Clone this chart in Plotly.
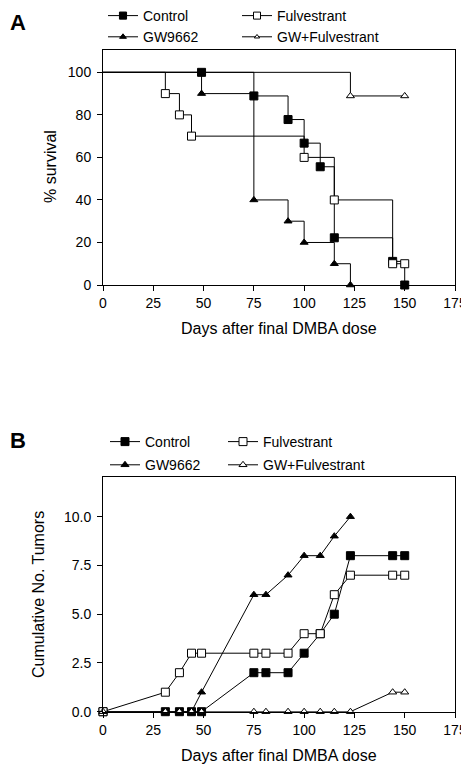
import plotly.graph_objects as go

# ---------------- Panel A: survival (%) ----------------
days_ctrl_a = [0, 49, 75, 92, 100, 108, 115, 144, 150]
surv_ctrl_a = [100, 100, 88.9, 77.8, 66.7, 55.6, 22.2, 11.1, 0]

days_fulv_a = [0, 31, 38, 44, 100, 115, 144, 150]
surv_fulv_a = [100, 90, 80, 70, 60, 40, 10, 10]

days_gw_a = [0, 49, 75, 92, 100, 115, 123]
surv_gw_a = [100, 90, 40, 30, 20, 10, 0]

days_gwf_a = [0, 123, 150]
surv_gwf_a = [100, 88.9, 88.9]

# ---------------- Panel B: cumulative tumours ----------------
days_b = [0, 31, 38, 44, 49, 75, 81, 92, 100, 108, 115, 123, 144, 150]
ctrl_b = [0, 0, 0, 0, 0, 2, 2, 2, 3, 4, 5, 8, 8, 8]
fulv_b = [0, 1, 2, 3, 3, 3, 3, 3, 4, 4, 6, 7, 7, 7]
days_gw_b = [0, 31, 38, 44, 49, 75, 81, 92, 100, 108, 115, 123]
gw_b = [0, 0, 0, 0, 1, 6, 6, 7, 8, 8, 9, 10]
gwf_b = [0, 0, 0, 0, 0, 0, 0, 0, 0, 0, 0, 0, 1, 1]

x_ticks = [0, 25, 50, 75, 100, 125, 150, 175]
y_ticks_a = [0, 20, 40, 60, 80, 100]
y_ticks_b = [0, 2.5, 5.0, 7.5, 10.0]

FONT = "Liberation Sans, Arial, sans-serif"
OFF = 8                      # page body margin
W, H = 469 - OFF, 765 - OFF  # figure size so the page matches the window

styles = {
    "Control": dict(symbol="square", color="#000000", size=8),
    "Fulvestrant": dict(symbol="square", color="#ffffff", size=8),
    "GW9662": dict(symbol="triangle-up", color="#000000", size=7),
    "GW+Fulvestrant": dict(symbol="triangle-up", color="#ffffff", size=7),
}


def trace(name, x, y, xa, ya, legend, shape, skip_first):
    st = styles[name]
    sizes = [st["size"]] * len(x)
    if skip_first:
        sizes[0] = 0
    return go.Scatter(
        x=x, y=y, name=name, mode="lines+markers",
        xaxis=xa, yaxis=ya, legend=legend, legendgroup=name + xa,
        line=dict(color="#000000", width=1, shape=shape),
        marker=dict(symbol=st["symbol"], color=st["color"], size=sizes, opacity=1,
                    line=dict(color="#000000", width=1)),
        cliponaxis=False,
    )


fig = go.Figure()
# Panel A (filled first, open on top)
fig.add_trace(trace("Control", days_ctrl_a, surv_ctrl_a, "x", "y", "legend", "hv", True))
fig.add_trace(trace("GW9662", days_gw_a, surv_gw_a, "x", "y", "legend", "hv", True))
fig.add_trace(trace("Fulvestrant", days_fulv_a, surv_fulv_a, "x", "y", "legend2", "hv", True))
fig.add_trace(trace("GW+Fulvestrant", days_gwf_a, surv_gwf_a, "x", "y", "legend2", "hv", True))
# Panel B
fig.add_trace(trace("Control", days_b, ctrl_b, "x2", "y2", "legend3", "linear", False))
fig.add_trace(trace("GW9662", days_gw_b, gw_b, "x2", "y2", "legend3", "linear", False))
fig.add_trace(trace("Fulvestrant", days_b, fulv_b, "x2", "y2", "legend4", "linear", False))
fig.add_trace(trace("GW+Fulvestrant", days_b, gwf_b, "x2", "y2", "legend4", "linear", False))

# page pixel -> paper fraction
px = lambda v: (v - OFF) / W
py = lambda v: 1 - (v - OFF) / H

axis_common = dict(
    showline=True, linecolor="black", linewidth=1, mirror=True,
    ticks="outside", ticklen=5, tickcolor="black", tickwidth=1,
    showgrid=False, zeroline=False,
    tickfont=dict(family=FONT, size=14, color="black"),
)

xd = [px(103), px(455)]
fig.update_layout(
    width=W, height=H,
    margin=dict(l=0, r=0, t=0, b=0, autoexpand=False),
    paper_bgcolor="white", plot_bgcolor="white",
    font=dict(family=FONT, size=14, color="black"),
    xaxis=dict(domain=xd, range=[0, 175], tickvals=x_ticks, anchor="y", **axis_common),
    yaxis=dict(domain=[py(285), py(50)], range=[0, 110.5], tickvals=y_ticks_a, anchor="x",
               ticklabelstandoff=3, **axis_common),
    xaxis2=dict(domain=xd, range=[0, 175], tickvals=x_ticks, anchor="y2", **axis_common),
    yaxis2=dict(domain=[py(711.7), py(476.7)], range=[0, 12.05], tickvals=y_ticks_b,
                tickformat=".1f", anchor="x2", ticklabelstandoff=3, **axis_common),
)

leg_common = dict(orientation="v", xanchor="left", yanchor="top", bgcolor="rgba(0,0,0,0)",
                  font=dict(family=FONT, size=14, color="black"), traceorder="grouped")
fig.update_layout(
    legend=dict(x=px(103), y=py(0), tracegroupgap=0, **leg_common),
    legend2=dict(x=px(237), y=py(0), tracegroupgap=0, **leg_common),
    legend3=dict(x=px(105), y=py(426), tracegroupgap=2, **leg_common),
    legend4=dict(x=px(223), y=py(426), tracegroupgap=2, **leg_common),
)

annotations = []
for text, x, y in [("<b>A</b>", 8, 8), ("<b>B</b>", 8, 426)]:
    annotations.append(dict(text=text, x=px(x), y=py(y), xref="paper", yref="paper",
                            showarrow=False, xanchor="left", yanchor="top",
                            font=dict(family=FONT, size=22, color="black")))
titles = [
    ("Days after final DMBA dose", px(279), py(328), 0),
    ("% survival", px(50), py(167), -90),
    ("Days after final DMBA dose", px(279), py(755), 0),
    ("Cumulative No. Tumors", px(38), py(595), -90),
]
for t, x, y, rot in titles:
    annotations.append(dict(text=t, x=x, y=y, xref="paper", yref="paper", showarrow=False,
                            xanchor="center", yanchor="middle", textangle=rot,
                            font=dict(family=FONT, size=16, color="black")))
fig.update_layout(annotations=annotations)

fig.write_html("out.html")
